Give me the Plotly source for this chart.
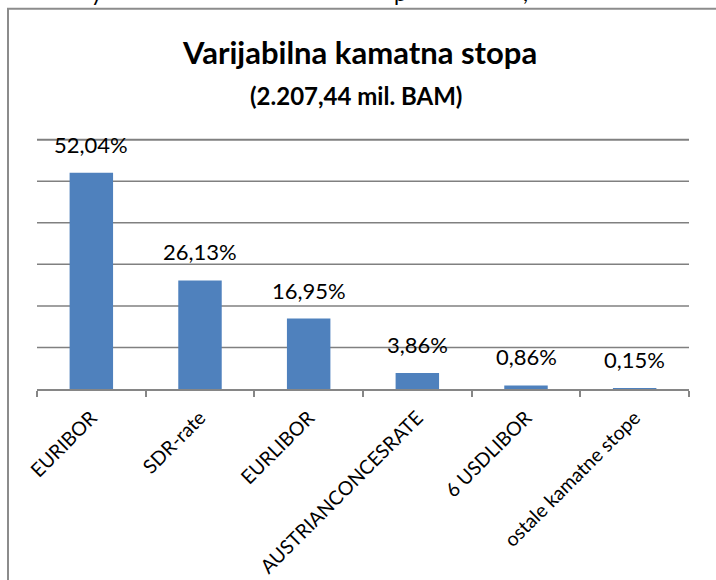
import plotly.graph_objects as go

categories = ["EURIBOR", "SDR-rate", "EURLIBOR", "AUSTRIANCONCESRATE", "6 USDLIBOR", "ostale kamatne stope"]
values = [52.04, 26.13, 16.95, 3.86, 0.86, 0.15]
value_labels = ["52,04%", "26,13%", "16,95%", "3,86%", "0,86%", "0,15%"]
grid_values = [10, 20, 30, 40, 50, 60]
title_line1 = "Varijabilna kamatna stopa"
title_line2 = "(2.207,44 mil. BAM)"
cut_chars = ["y", "p", ","]
cut_x = [97, 400, 525]

FONT = "Lato"
W, H = 716, 580
YMAX = 64
L, R, B = 37, 27, 190.5
unit = 249.5 / 60.0
T = H - B - YMAX * unit
pw = W - L - R
ph = H - T - B

def px_x(x):
    return (x - L) / pw

def px_y(y):
    return 1 + (T - y) / ph

fig = go.Figure()
fig.add_trace(go.Bar(
    x=categories, y=values,
    marker=dict(color="#4F81BD", line=dict(width=0)),
    width=0.4,
    hoverinfo="skip",
))

annotations = []
for c, v, t in zip(categories, values, value_labels):
    annotations.append(dict(
        x=c, y=v, xref="x", yref="y", text=t, showarrow=False,
        yanchor="bottom", yshift=13,
        font=dict(family=FONT, size=22, color="#000000"),
    ))

annotations.append(dict(
    x=px_x(359), y=px_y(52), xref="paper", yref="paper", text="<b>" + title_line1 + "</b>",
    showarrow=False, xanchor="center", yanchor="middle",
    font=dict(family=FONT, size=31, color="#000000"),
))
annotations.append(dict(
    x=px_x(356), y=px_y(96), xref="paper", yref="paper", text="<b>" + title_line2 + "</b>",
    showarrow=False, xanchor="center", yanchor="middle",
    font=dict(family=FONT, size=24, color="#000000"),
))
for ch, cx in zip(cut_chars, cut_x):
    annotations.append(dict(
        x=px_x(cx), y=px_y(7), xref="paper", yref="paper", text=ch,
        showarrow=False, xanchor="center", yanchor="bottom", borderpad=0,
        font=dict(family=FONT, size=22, color="#000000"),
    ))

shapes = [
    dict(type="line", xref="paper", yref="paper",
         x0=px_x(8), x1=px_x(8), y0=px_y(9), y1=px_y(600),
         line=dict(color="#8C8C8C", width=2)),
    dict(type="line", xref="paper", yref="paper",
         x0=px_x(7), x1=px_x(730), y0=px_y(9), y1=px_y(9),
         line=dict(color="#8C8C8C", width=2)),
]
top_value = max(values)
for gv in grid_values:
    shapes.append(dict(
        type="line", xref="paper", yref="y", x0=0, x1=1, y0=gv, y1=gv,
        layer="above" if gv > top_value else "below",
        line=dict(color="#808080", width=2 if gv > top_value else 1.5),
    ))

fig.update_layout(
    width=W, height=H,
    margin=dict(l=L, r=R, t=T, b=B, pad=0, autoexpand=False),
    paper_bgcolor="white", plot_bgcolor="white",
    showlegend=False,
    annotations=annotations,
    shapes=shapes,
    bargap=0.6,
    xaxis=dict(
        type="category", automargin=False,
        showline=True, linecolor="#868686", linewidth=1.5,
        ticks="outside", tickson="boundaries", ticklen=6, tickcolor="#868686", tickwidth=1.5,
        tickangle=-45, ticklabelstandoff=8,
        tickfont=dict(family=FONT, size=19.5, color="#000000"),
        showgrid=False,
    ),
    yaxis=dict(
        range=[0, YMAX], automargin=False,
        showticklabels=False, showgrid=False,
        zeroline=False, showline=False, ticks="",
    ),
)

fig.write_html(
    "out.html",
    config={"displayModeBar": False},
    post_script="document.body.style.margin='0px';document.body.style.overflow='hidden';",
)
